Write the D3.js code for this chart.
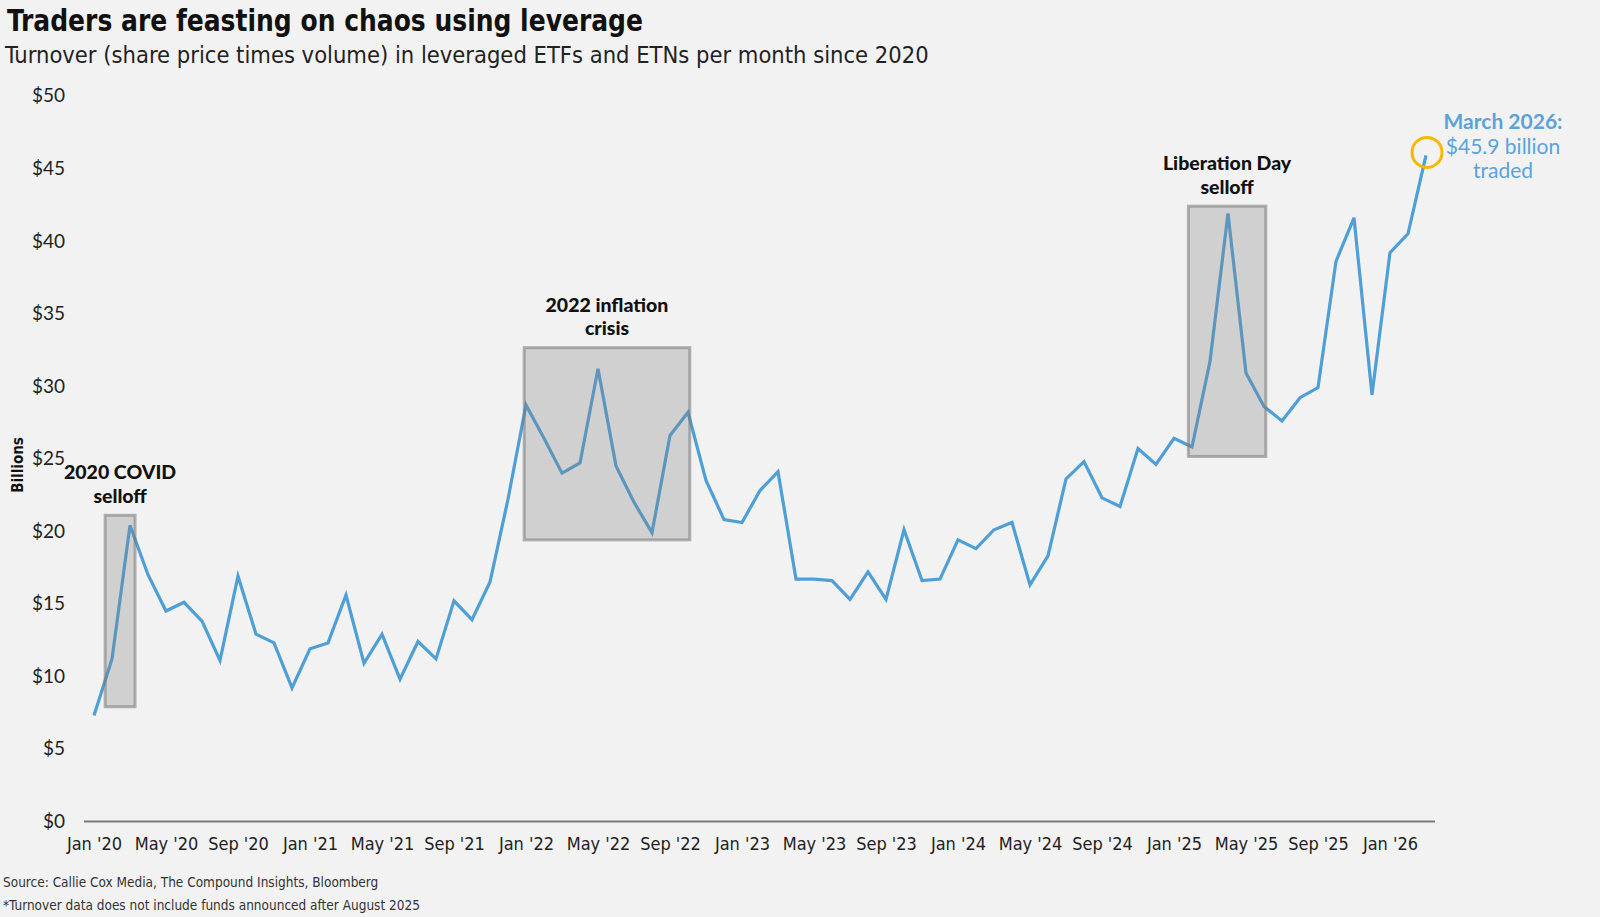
<!DOCTYPE html>
<html>
<head>
<meta charset="utf-8">
<script src="https://cdn.jsdelivr.net/npm/d3@7"></script>
<style>
  html, body { margin: 0; padding: 0; background: #f2f2f2; }
  svg { display: block; }
  .narrow { font-family: "Liberation Sans Narrow", "DejaVu Sans Condensed", "Roboto", sans-serif; }
  .lato { font-family: "Lato", "Noto Sans", sans-serif; }
</style>
</head>
<body>
<svg id="chart" width="1600" height="917"></svg>
<script>
// monthly turnover, $ billions, Jan 2020 .. Mar 2026
const months = d3.range(75).map(i => new Date(2020, i, 1));
const turnover = [
  7.3, 11.2, 20.4, 17.0, 14.5, 15.1, 13.8, 11.1, 16.9, 12.9, 12.3, 9.2,
  11.9, 12.3, 15.6, 10.9, 12.9, 9.8, 12.4, 11.2, 15.2, 13.9, 16.5, 22.2,
  28.7, 26.4, 24.0, 24.7, 31.2, 24.5, 22.0, 19.9, 26.6, 28.2, 23.5, 20.8,
  20.6, 22.8, 24.1, 16.7, 16.7, 16.6, 15.3, 17.2, 15.3, 20.1, 16.6, 16.7,
  19.4, 18.8, 20.1, 20.6, 16.3, 18.3, 23.6, 24.8, 22.3, 21.7, 25.7, 24.6,
  26.4, 25.8, 31.7, 41.9, 30.9, 28.6, 27.6, 29.2, 29.9, 38.6, 41.6, 29.4,
  39.2, 40.5, 45.9
];
const yTicks = [0, 5, 10, 15, 20, 25, 30, 35, 40, 45, 50];
const xTickIdx = d3.range(0, 75, 4);
const xTickLabels = ["Jan '20", "May '20", "Sep '20", "Jan '21", "May '21", "Sep '21",
  "Jan '22", "May '22", "Sep '22", "Jan '23", "May '23", "Sep '23", "Jan '24",
  "May '24", "Sep '24", "Jan '25", "May '25", "Sep '25", "Jan '26"];

// shaded episodes: month index span and value span
const episodes = [
  { lines: ["2020 COVID", "selloff"], from: 0.62, to: 2.28, lo: 7.9, hi: 21.1 },
  { lines: ["2022 inflation", "crisis"], from: 23.9, to: 33.1, lo: 19.4, hi: 32.65 },
  { lines: ["Liberation Day", "selloff"], from: 60.8, to: 65.1, lo: 25.15, hi: 42.4 }
];

const svg = d3.select("#chart");
const x = d3.scaleLinear().domain([0, 74]).range([94, 1426]);
const y = d3.scaleLinear().domain([0, 50]).range([821.4, 95.9]);

svg.append("rect").attr("width", 1600).attr("height", 917).attr("fill", "#f2f2f2");

// titles
svg.append("text").attr("class", "narrow").attr("x", 7).attr("y", 31)
  .attr("font-size", 30).attr("font-weight", "bold").attr("fill", "#111")
  .attr("textLength", 636).attr("lengthAdjust", "spacingAndGlyphs")
  .text("Traders are feasting on chaos using leverage");
svg.append("text").attr("class", "narrow").attr("x", 5).attr("y", 63)
  .attr("font-size", 23.5).attr("fill", "#222")
  .text("Turnover (share price times volume) in leveraged ETFs and ETNs per month since 2020");

// y axis labels
const yAxis = d3.axisLeft(y).tickValues(yTicks).tickSize(0).tickPadding(0)
  .tickFormat(d => "$" + d);
svg.append("g").attr("transform", "translate(65,0)").call(yAxis)
  .call(g => g.select(".domain").remove())
  .selectAll("text").attr("class", "lato").attr("font-size", 19).attr("fill", "#222");

svg.append("text").attr("class", "narrow")
  .attr("transform", "translate(23,465) rotate(-90)")
  .attr("text-anchor", "middle").attr("font-size", 15).attr("font-weight", "bold")
  .attr("fill", "#111").text("Billions");

// baseline
svg.append("line").attr("x1", 84).attr("x2", 1435)
  .attr("y1", y(0)).attr("y2", y(0)).attr("stroke", "#7a7a7a").attr("stroke-width", 2);

// x labels
const xAxis = d3.axisBottom(x).tickValues(xTickIdx).tickSize(0).tickPadding(16)
  .tickFormat((d, i) => xTickLabels[i]);
svg.append("g").attr("transform", `translate(0,${y(0)})`).call(xAxis)
  .call(g => g.select(".domain").remove())
  .selectAll("text").attr("class", "narrow").attr("font-size", 18).attr("fill", "#222");

// line
const line = d3.line().x((d, i) => x(i)).y(d => y(d));
svg.append("path").datum(turnover).attr("d", line)
  .attr("fill", "none").attr("stroke", "#4d9fd6").attr("stroke-width", 3.2)
  .attr("stroke-linejoin", "miter");

// boxes drawn over the line, translucent
const ep = svg.append("g");
ep.selectAll("rect").data(episodes).join("rect")
  .attr("x", d => x(d.from)).attr("y", d => y(d.hi))
  .attr("width", d => x(d.to) - x(d.from)).attr("height", d => y(d.lo) - y(d.hi))
  .attr("fill", "rgba(128,128,128,0.3)").attr("stroke", "rgba(120,120,120,0.55)")
  .attr("stroke-width", 3);
ep.selectAll("text").data(episodes).join("text")
  .attr("class", "lato").attr("text-anchor", "middle")
  .attr("font-size", 19.5).attr("font-weight", 900).attr("fill", "#111")
  .attr("x", d => (x(d.from) + x(d.to)) / 2)
  .attr("y", d => y(d.hi) - 36)
  .each(function (d) {
    d3.select(this).selectAll("tspan").data(d.lines).join("tspan")
      .attr("x", (x(d.from) + x(d.to)) / 2)
      .attr("dy", (t, i) => i ? 23.5 : 0).text(t => t);
  });

// last point call-out
const last = turnover.length - 1;
svg.append("circle").attr("cx", x(last) + 1).attr("cy", y(turnover[last]) - 3).attr("r", 15)
  .attr("fill", "none").attr("stroke", "#f5b800").attr("stroke-width", 3);
const call = svg.append("text").attr("class", "lato").attr("text-anchor", "middle")
  .attr("font-size", 21).attr("fill", "#5aa3db");
call.append("tspan").attr("x", 1503).attr("y", 129).attr("font-weight", "bold").text("March 2026:");
call.append("tspan").attr("x", 1503).attr("dy", 24.5).text("$" + turnover[last] + " billion");
call.append("tspan").attr("x", 1503).attr("dy", 24.5).text("traded");

// source notes
svg.append("text").attr("class", "narrow").attr("x", 3).attr("y", 887)
  .attr("font-size", 13.5).attr("fill", "#333")
  .text("Source: Callie Cox Media, The Compound Insights, Bloomberg");
svg.append("text").attr("class", "narrow").attr("x", 3).attr("y", 910)
  .attr("font-size", 13.5).attr("fill", "#333")
  .text("*Turnover data does not include funds announced after August 2025");
</script>
</body>
</html>
